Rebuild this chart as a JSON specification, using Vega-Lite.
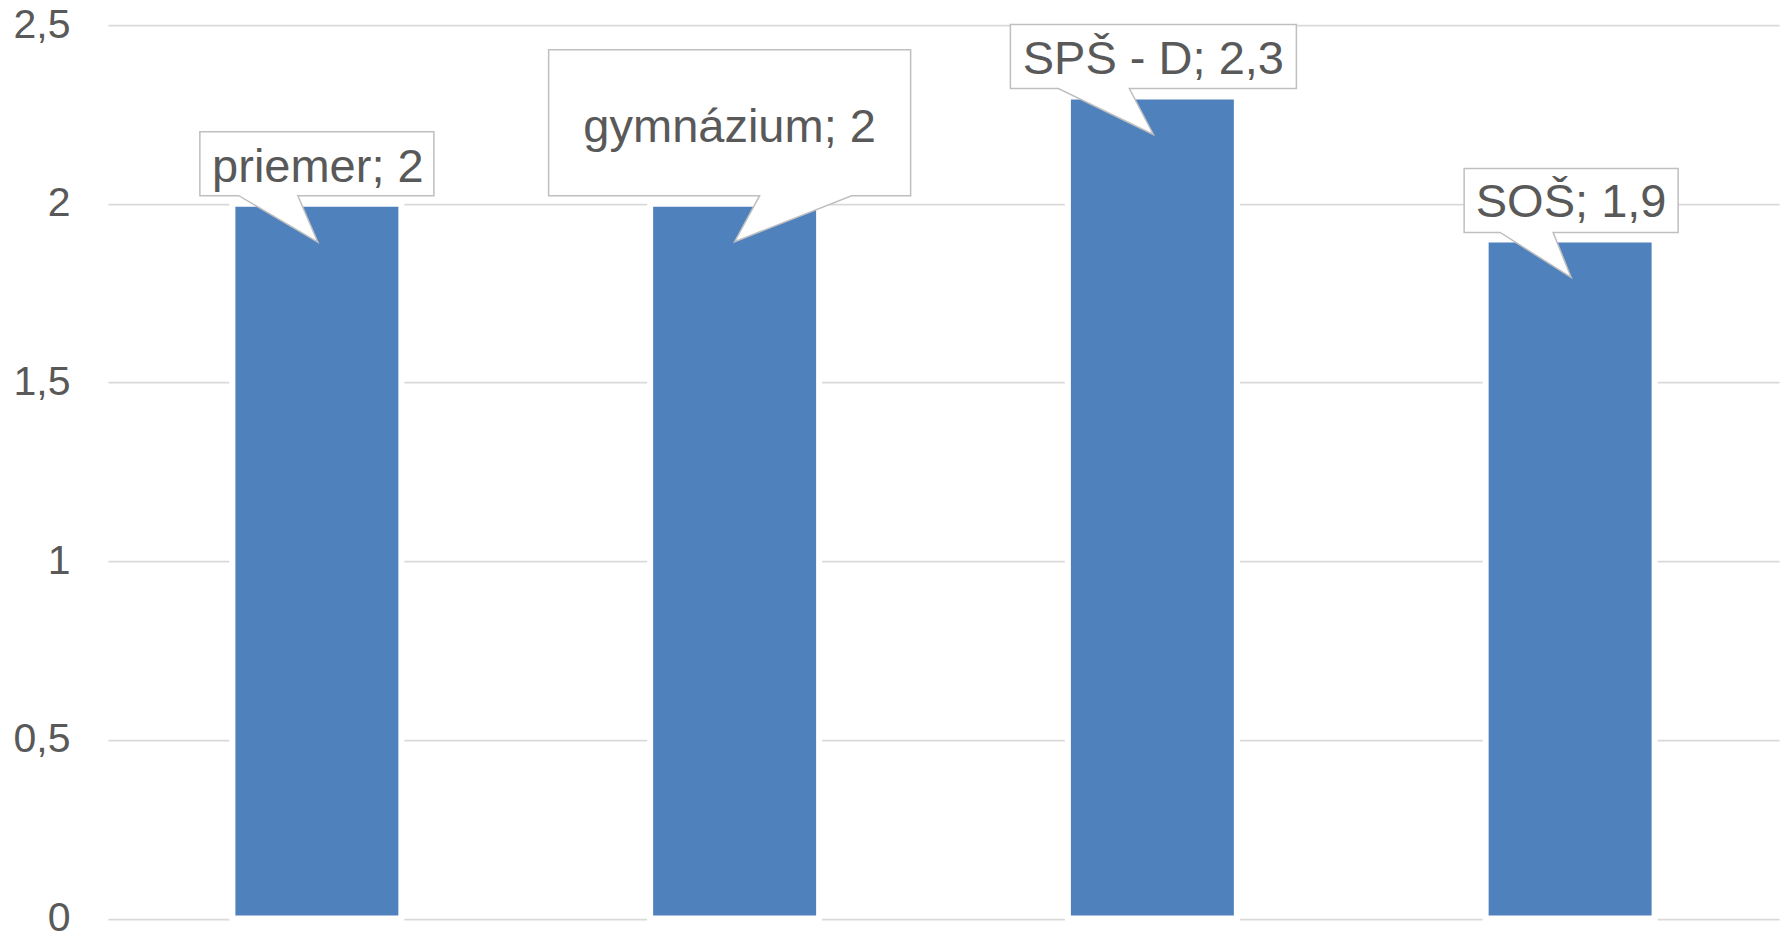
{
  "$schema": "https://vega.github.io/schema/vega-lite/v6.json",
  "width": 1671,
  "height": 893.5,
  "autosize": {"type": "none"},
  "padding": {"left": 108, "top": 25, "right": 6, "bottom": 18.5},
  "background": "white",
  "config": {"view": {"stroke": null}, "font": "Liberation Sans"},
  "data": {
    "values": [
      {"category": "priemer", "value": 2, "label": "priemer; 2"},
      {"category": "gymnázium", "value": 2, "label": "gymnázium; 2"},
      {"category": "SPŠ - D", "value": 2.3, "label": "SPŠ - D; 2,3"},
      {"category": "SOŠ", "value": 1.9, "label": "SOŠ; 1,9"}
    ]
  },
  "encoding": {
    "x": {
      "field": "category",
      "type": "nominal",
      "sort": null,
      "scale": {"paddingInner": 0.5955, "paddingOuter": 0.29775},
      "axis": null
    },
    "y": {
      "field": "value",
      "type": "quantitative",
      "scale": {"domain": [0, 2.5], "nice": false},
      "axis": {
        "title": null,
        "values": [0, 0.5, 1, 1.5, 2, 2.5],
        "format": "~g",
        "labelExpr": "replace(datum.label, '.', ',')",
        "labelFontSize": 41,
        "labelColor": "#595959",
        "labelFont": "Liberation Sans",
        "labelPadding": 38,
        "ticks": false,
        "domain": false,
        "grid": true,
        "gridColor": "#D9D9D9",
        "gridWidth": 1.75
      }
    }
  },
  "layer": [
    {
      "mark": {"type": "bar", "fill": "#4F81BD", "stroke": "white", "strokeWidth": 6}
    },
    {
      "mark": {
        "type": "point",
        "filled": true,
        "fill": "white",
        "stroke": "#BFBFBF",
        "strokeWidth": 1.5,
        "opacity": 1,
        "fillOpacity": 1,
        "strokeOpacity": 1,
        "size": 4
      },
      "encoding": {
        "shape": {
          "field": "category",
          "type": "nominal",
          "legend": null,
          "scale": {
            "domain": ["priemer", "gymnázium", "SPŠ - D", "SOŠ"],
            "range": [
              "M -117 -72 L 117 -72 L 117 -8 L -19 -8 L 1 38.5 L -78 -8 L -117 -8 Z",
              "M -186 -154 L 176 -154 L 176 -8 L 117 -8 L 0 38 L 25 -8 L -186 -8 Z",
              "M -142 -72 L 144 -72 L 144 -8 L -23 -8 L 1 38 L -94 -8 L -142 -8 Z",
              "M -106 -71 L 108 -71 L 108 -7 L -17 -7 L 1 38 L -70 -7 L -106 -7 Z"
            ]
          }
        }
      }
    },
    {
      "transform": [{"filter": "datum.category !== 'gymnázium'"}],
      "mark": {
        "type": "text",
        "align": "center",
        "baseline": "alphabetic",
        "dy": -22,
        "dx": 1,
        "fontSize": 47,
        "font": "Liberation Sans",
        "color": "#595959"
      },
      "encoding": {"text": {"field": "label", "type": "nominal"}}
    },
    {
      "transform": [{"filter": "datum.category === 'gymnázium'"}],
      "mark": {
        "type": "text",
        "align": "center",
        "baseline": "alphabetic",
        "dy": -62,
        "dx": -5,
        "fontSize": 47,
        "font": "Liberation Sans",
        "color": "#595959"
      },
      "encoding": {"text": {"field": "label", "type": "nominal"}}
    }
  ]
}
